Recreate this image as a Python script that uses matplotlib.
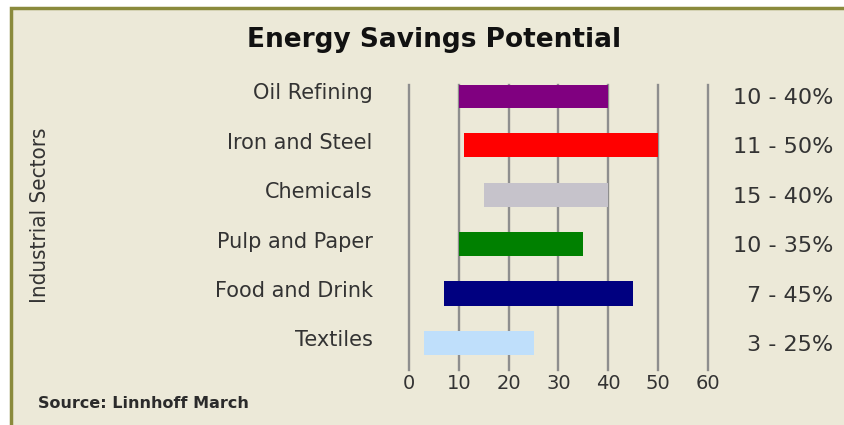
import matplotlib.pyplot as plt
from matplotlib.patches import Rectangle

# Sectores e faixas de poupança (%)
sectors = ["Oil Refining", "Iron and Steel", "Chemicals",
           "Pulp and Paper", "Food and Drink", "Textiles"]
low = [10, 11, 15, 10, 7, 3]
high = [40, 50, 40, 35, 45, 25]
colors = ["#800080", "#ff0000", "#c6c3cb", "#008000", "#000080", "#bfdffb"]
xticks = [0, 10, 20, 30, 40, 50, 60]

bg = "#ece9d8"
txt = "#333333"

fig = plt.figure(figsize=(8.45, 4.25), dpi=100)
fig.patch.set_facecolor("white")

# moldura bege com borda oliva
frame = Rectangle((11 / 845, -0.05), 1.0, 1 - 8 / 425 + 0.05, transform=fig.transFigure,
                  facecolor=bg, edgecolor="#8a8a3c", linewidth=2.5, zorder=-5)
fig.patches.append(frame)

ax = fig.add_axes([409 / 845, 1 - 370 / 425, 299 / 845, 285 / 425])
ax.set_facecolor("none")
for s in ax.spines.values():
    s.set_visible(False)

ypos = list(range(len(sectors)))
widths = [h - l for l, h in zip(low, high)]
ax.barh(ypos, widths, left=low, height=0.49, color=colors, zorder=3)

for x in xticks:
    ax.axvline(x, color="#8e8e8e", linewidth=1.7, zorder=1, clip_on=False)

ax.set_xlim(0, 60)
ax.set_ylim(5.55, -0.22)
ax.set_xticks([])
ax.set_yticks([])

for x in xticks:
    ax.text(x, 5.82, str(x), ha="center", va="center", fontsize=14,
            color=txt, family="DejaVu Sans")

for y, name, l, h in zip(ypos, sectors, low, high):
    ax.text(-7.3, y - 0.05, name, ha="right", va="center", fontsize=15,
            color=txt, family="DejaVu Sans")
    fig.text(833 / 845, 1 - (96 + y * 49.4 + 2) / 425, f"{l} - {h}%",
             ha="right", va="center", fontsize=16, color=txt, family="DejaVu Sans")

fig.text(434 / 845, 1 - 40 / 425, "Energy Savings Potential", ha="center", va="center",
         fontsize=19, fontweight="bold", color="#111111", family="DejaVu Sans")
fig.text(40 / 845, 1 - 215 / 425, "Industrial Sectors", rotation=90, ha="center",
         va="center", fontsize=16, color="#333333", family="DejaVu Sans",
         fontstretch="condensed", fontweight="light")
fig.text(38 / 845, 1 - 403 / 425, "Source: Linnhoff March", ha="left", va="center",
         fontsize=11.5, fontweight="bold", color="#2b2b2b", family="DejaVu Sans")

fig.savefig("out.png", dpi=100, facecolor=fig.get_facecolor())
